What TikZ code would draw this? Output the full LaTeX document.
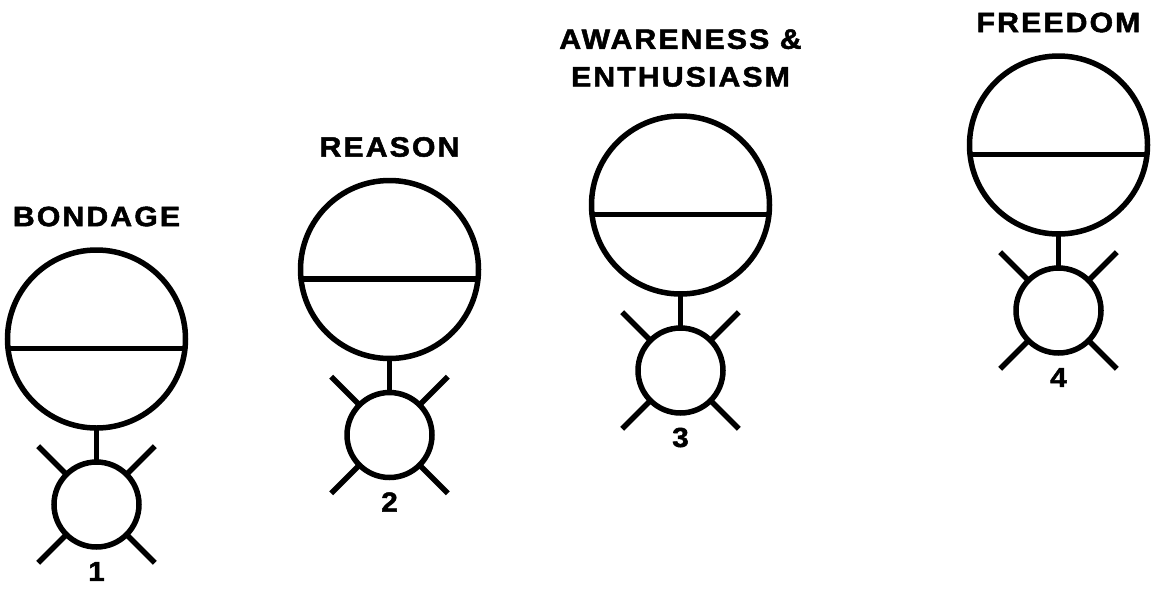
\documentclass[tikz,border=0pt]{standalone}
\usepackage{fontspec}
\setmainfont{Liberation Sans}
\newfontfamily\titlefont[LetterSpace=7.5, FakeStretch=1.08, FakeBold=1.8]{Liberation Sans Bold}
\usepackage{tikz}
\usetikzlibrary{positioning}

\begin{document}
\begin{tikzpicture}[
    x=1pt, y=-1pt,
    node distance=34pt,
    head/.style={draw, circle, line width=5.5pt, minimum size=178pt, inner sep=0pt, outer sep=0pt},
    body/.style={draw, circle, line width=5.5pt, minimum size=85pt, inner sep=0pt, outer sep=0pt},
    limb/.style={line width=5.5pt},
    title/.style={font=\titlefont\fontsize{28}{37.7}\selectfont, align=center},
    num/.style={font=\titlefont\fontsize{27.5}{34}\selectfont}
]
\useasboundingbox (0,0) rectangle (1151,592);

% 1
\node[head] (head1) at (96.5,339) {};
\node[body, below=of head1] (body1) {};
\node[title] (title1) at ([yshift=122.5pt]head1.center) {BONDAGE};
\node[num] (num1) at ([yshift=-67pt]body1.center) {1};
\draw[limb] (head1.186.45) -- (head1.-6.45);
\draw[limb] (head1.south) -- (body1.north);
\draw[limb] (body1.45) -- ++(45:40pt) (body1.135) -- ++(135:40pt)
    (body1.-45) -- ++(-45:40pt) (body1.-135) -- ++(-135:40pt);

% 2
\node[head] (head2) at (389.5,269.5) {};
\node[body, below=of head2] (body2) {};
\node[title] (title2) at ([yshift=122.5pt]head2.center) {REASON};
\node[num] (num2) at ([yshift=-67pt]body2.center) {2};
\draw[limb] (head2.186.45) -- (head2.-6.45);
\draw[limb] (head2.south) -- (body2.north);
\draw[limb] (body2.45) -- ++(45:40pt) (body2.135) -- ++(135:40pt)
    (body2.-45) -- ++(-45:40pt) (body2.-135) -- ++(-135:40pt);

% 3
\node[head] (head3) at (680.5,205) {};
\node[body, below=of head3] (body3) {};
\node[title] (title3) at ([yshift=147pt]head3.center) {AWARENESS \&\\ENTHUSIASM};
\node[num] (num3) at ([yshift=-67pt]body3.center) {3};
\draw[limb] (head3.186.45) -- (head3.-6.45);
\draw[limb] (head3.south) -- (body3.north);
\draw[limb] (body3.45) -- ++(45:40pt) (body3.135) -- ++(135:40pt)
    (body3.-45) -- ++(-45:40pt) (body3.-135) -- ++(-135:40pt);

% 4
\node[head] (head4) at (1058.5,145) {};
\node[body, below=of head4] (body4) {};
\node[title] (title4) at ([yshift=122.5pt]head4.center) {FREEDOM};
\node[num] (num4) at ([yshift=-67pt]body4.center) {4};
\draw[limb] (head4.186.45) -- (head4.-6.45);
\draw[limb] (head4.south) -- (body4.north);
\draw[limb] (body4.45) -- ++(45:40pt) (body4.135) -- ++(135:40pt)
    (body4.-45) -- ++(-45:40pt) (body4.-135) -- ++(-135:40pt);
\end{tikzpicture}
\end{document}
